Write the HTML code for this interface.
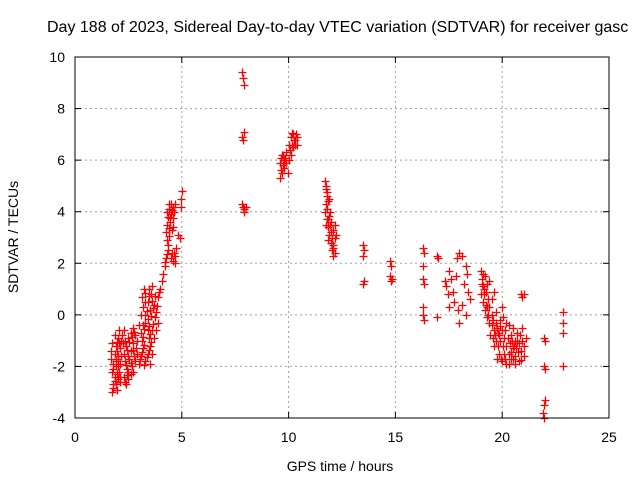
<!DOCTYPE html>
<html><head><meta charset="utf-8"><style>
html,body{margin:0;padding:0;background:#fff;}
svg{display:block;font-family:"Liberation Sans",sans-serif;}
</style></head><body>
<svg id="chart" width="640" height="480" viewBox="0 0 640 480">
<rect width="640" height="480" fill="#fff"/>
<text x="47" y="32" font-size="16" fill="#000">Day 188 of 2023, Sidereal Day-to-day VTEC variation (SDTVAR) for receiver gasc</text>
<g id="grid"></g><g id="ticks"></g><g id="marks"></g>
<rect x="75" y="57" width="534" height="361" fill="none" stroke="#000" stroke-width="1"/>
<text x="18" y="237" font-size="14" text-anchor="middle" transform="rotate(-90 18 237)">SDTVAR / TECUs</text>
<text x="340" y="471" font-size="14" text-anchor="middle">GPS time / hours</text>
</svg>
<script>
const xTicks=[0,5,10,15,20,25];
const yTicks=[-4,-2,0,2,4,6,8,10];
const gpsHours=[1.75,1.8,1.85,1.8,1.9,1.85,1.9,2.0,2.05,1.95,2.0,2.05,2.1,2.0,2.1,1.7,1.75,2.15,1.9,2.1,
2.3,2.4,2.5,2.45,2.35,2.3,2.4,2.5,2.6,2.7,2.8,2.7,2.6,2.55,2.65,2.6,2.75,2.85,2.9,2.2,2.25,
3.0,3.1,3.2,3.15,3.1,3.2,3.3,3.4,3.5,3.45,3.4,3.3,3.6,3.7,3.8,3.9,3.3,3.2,3.15,3.25,3.4,3.5,3.55,3.6,3.7,3.8,3.9,4.0,4.05,3.5,3.0,3.1,
4.1,4.2,4.25,4.35,4.3,4.25,4.3,4.35,4.4,4.5,4.6,4.5,4.45,4.7,4.6,4.55,4.6,4.7,4.8,4.9,4.95,5.0,4.95,4.75,
7.8,7.85,7.9,7.8,7.85,7.9,7.8,7.85,7.9,8.0,7.9,
9.6,9.65,9.6,9.7,9.75,9.8,9.9,10.0,10.1,10.2,10.3,10.35,10.2,10.1,9.95,10.0,10.4,9.65,
11.7,11.75,11.8,11.75,11.7,11.8,11.85,11.9,12.0,12.05,12.1,11.95,12.0,12.1,12.15,11.9,12.1,11.85,
13.5,13.55,13.5,13.55,13.5,14.75,14.8,14.75,14.8,14.85,
16.3,16.35,16.3,16.3,16.35,16.3,16.3,16.35,16.95,17.0,16.95,
17.3,17.35,17.45,17.5,17.5,17.6,17.7,17.75,17.85,17.9,18.0,18.1,17.95,18.0,18.1,18.2,18.3,18.35,18.4,18.5,18.3,
19.0,19.05,19.1,19.0,19.1,19.2,19.3,19.25,19.3,19.35,19.4,19.5,19.5,19.45,19.6,19.7,19.8,19.7,19.6,19.9,20.0,20.1,20.2,20.3,20.1,20.0,20.2,20.4,20.5,20.6,20.7,20.8,20.9,20.8,20.6,20.4,20.3,20.5,19.9,20.2,20.0,19.6,19.4,19.2,21.0,20.95,21.1,19.75,19.95,
20.9,21.0,20.95,
21.95,22.0,21.95,22.0,21.95,21.9,21.95,22.0,
22.85,22.85,22.85,22.85,
1.8,1.85,1.95,1.9,2.0,1.95,2.05,1.85,1.7,1.75,2.1,2.15,1.8,2.0,1.95,
2.35,2.45,2.4,2.5,2.45,2.55,2.65,2.75,2.7,2.6,2.7,2.5,2.8,2.9,2.35,2.3,
3.05,3.15,3.25,3.2,3.25,3.35,3.45,3.55,3.5,3.45,3.4,3.35,3.3,3.3,3.45,3.6,3.65,3.75,3.85,3.75,3.65,3.55,3.95,3.45,3.6,3.25,
4.2,4.3,4.35,4.4,4.4,4.45,4.55,4.65,4.6,4.4,4.3,4.55,4.65,4.5,4.7,
9.7,9.8,9.85,9.9,10.05,10.15,10.25,10.3,10.4,10.15,9.75,
11.75,11.8,11.85,11.8,11.9,11.95,12.0,12.05,12.1,12.15,11.85,11.75,12.15,12.2,
19.05,19.15,19.25,19.35,19.4,19.55,19.55,19.65,19.75,19.85,19.8,19.85,20.05,20.15,20.25,20.35,20.45,20.55,20.65,20.75,20.7,20.85,20.95,21.0,20.9,20.6,20.3,20.15,20.4,20.5,19.9,20.05,19.7,19.5,19.3,19.15,19.1];
const sdtvar=[-3.0,-2.7,-2.4,-2.1,-1.8,-1.5,-1.2,-0.9,-0.6,-2.9,-2.5,-2.2,-1.9,-1.6,-1.3,-1.4,-1.1,-1.0,-2.7,-2.6,
-2.4,-2.7,-2.5,-2.1,-1.8,-1.5,-1.2,-0.9,-0.7,-0.5,-0.8,-1.1,-1.4,-1.7,-2.0,-2.3,-1.6,-1.3,-1.0,-0.8,-1.1,
-1.9,-1.6,-1.3,-1.0,-0.7,-0.4,-1.8,-1.5,-1.2,-0.9,-0.6,-0.3,-0.6,-0.9,-0.6,-0.3,0.0,0.3,0.7,1.0,0.5,0.2,0.8,1.1,0.4,0.1,0.7,1.0,1.3,-1.9,-0.4,0.0,
1.6,1.9,2.2,2.5,2.9,3.2,3.5,3.8,4.1,4.3,4.2,3.9,3.6,4.3,3.4,2.4,2.1,2.3,3.1,3.0,4.5,4.8,4.2,2.6,
9.4,9.2,8.9,6.9,6.8,7.1,4.3,4.2,4.1,4.2,4.0,
5.3,5.6,5.9,6.2,5.8,6.0,6.3,6.6,6.9,7.0,6.8,7.0,6.5,6.2,5.5,6.0,6.6,6.1,
5.2,4.9,4.6,4.3,4.0,3.7,3.4,3.1,2.8,2.5,2.3,4.0,3.6,3.3,3.0,4.5,2.7,2.9,
2.7,2.5,2.3,1.3,1.2,2.1,1.9,1.5,1.3,1.4,
2.6,2.4,1.9,1.4,1.2,0.3,0.0,-0.2,2.3,2.2,-0.1,
1.3,1.1,0.8,1.7,0.3,1.4,0.9,0.5,1.5,2.2,2.4,2.3,0.2,-0.3,0.4,1.2,1.9,1.6,0.9,0.6,0.0,
1.7,1.4,1.1,0.8,0.5,0.2,-0.1,0.9,1.2,0.6,0.3,0.0,-0.4,-0.8,-0.6,-0.3,-0.7,-1.0,-1.2,-1.0,-0.6,-0.9,-1.2,-1.5,-1.5,-1.8,-1.9,-1.7,-1.3,-1.0,-0.7,-1.1,-1.4,-1.8,-1.6,-0.8,-0.4,-0.5,-0.2,-0.3,0.3,0.9,1.3,1.5,-1.2,-0.5,-0.9,-1.7,-1.7,
0.8,0.8,0.7,
-0.9,-1.0,-2.0,-2.1,-3.5,-3.8,-4.0,-3.3,
0.1,-0.3,-0.7,-2.0,
-2.85,-2.55,-2.3,-2.0,-1.7,-1.4,-1.1,-0.8,-1.7,-2.2,-2.4,-1.6,-1.9,-2.0,-1.05,
-2.6,-2.35,-1.95,-1.6,-1.35,-1.05,-0.85,-0.65,-1.35,-1.85,-2.2,-2.2,-1.8,-1.5,-1.0,-0.6,
-1.7,-1.45,-1.15,-0.85,-0.55,-1.65,-1.35,-1.05,-0.75,-0.45,-0.15,0.15,0.5,0.85,0.75,0.55,0.25,-0.1,0.35,0.75,-0.35,-0.05,0.9,1.0,-1.5,-1.95,
2.05,2.35,2.7,3.05,3.35,3.75,4.05,4.0,3.75,4.3,4.0,3.3,2.4,2.2,2.0,
5.5,5.7,6.1,5.9,6.4,6.6,6.8,6.6,6.9,7.05,6.2,
5.0,4.75,4.4,4.1,3.85,3.5,3.2,3.0,2.6,2.4,3.7,3.5,3.5,3.1,
1.2,0.8,0.4,0.0,-0.3,-0.2,-0.9,-0.8,-0.5,-0.8,-1.2,-1.5,-1.2,-0.6,-0.9,-1.1,-1.0,-1.2,-1.3,-1.45,-1.0,-0.8,-1.0,-1.6,-1.75,-1.9,-1.9,-1.7,-1.45,-1.7,-0.45,-0.1,0.1,0.6,0.3,1.0,1.6];
const NS='http://www.w3.org/2000/svg';
const X0=75,X1=609,Y0=418,Y1=57,xMin=0,xMax=25,yMin=-4,yMax=10;
function sx(v){return X0+(v-xMin)/(xMax-xMin)*(X1-X0);}
function sy(v){return Y0-(v-yMin)/(yMax-yMin)*(Y0-Y1);}
function mk(tag,attrs,parent){const e=document.createElementNS(NS,tag);for(const k in attrs)e.setAttribute(k,attrs[k]);parent.appendChild(e);return e;}
const grid=document.getElementById('grid'),ticks=document.getElementById('ticks'),marks=document.getElementById('marks');
xTicks.forEach(t=>{const x=sx(t);
 if(t>xMin&&t<xMax){const g=mk('line',{x1:x,x2:x,y1:Y0,y2:Y1,stroke:'#a0a0a0','stroke-dasharray':'2,3'},grid);
 
 }
 mk('line',{x1:x,x2:x,y1:Y0,y2:Y0-6,stroke:'#000'},ticks);mk('line',{x1:x,x2:x,y1:Y1,y2:Y1+6,stroke:'#000'},ticks);
 const l=mk('text',{x:x,y:Y0+24,'font-size':14,'text-anchor':'middle'},ticks);l.textContent=t;
 
 });
yTicks.forEach(t=>{const y=sy(t);
 if(t>yMin&&t<yMax){const g=mk('line',{x1:X0,x2:X1,y1:y,y2:y,stroke:'#a0a0a0','stroke-dasharray':'2,3'},grid);
 
 }
 mk('line',{x1:X0,x2:X0+6,y1:y,y2:y,stroke:'#000'},ticks);mk('line',{x1:X1,x2:X1-6,y1:y,y2:y,stroke:'#000'},ticks);
 const l=mk('text',{x:X0-10,y:y+5,'font-size':14,'text-anchor':'end'},ticks);l.textContent=t;
 
 });
gpsHours.forEach((h,i)=>{const x=Math.round(sx(h))+0.5,y=Math.round(sy(sdtvar[i]))+0.5;
 const p=mk('path',{d:`M${x-4},${y}H${x+4}M${x},${y-4}V${y+4}`,stroke:'#ff0000','stroke-width':1.3,fill:'none'},marks);
 
 });
</script>
</body></html>
